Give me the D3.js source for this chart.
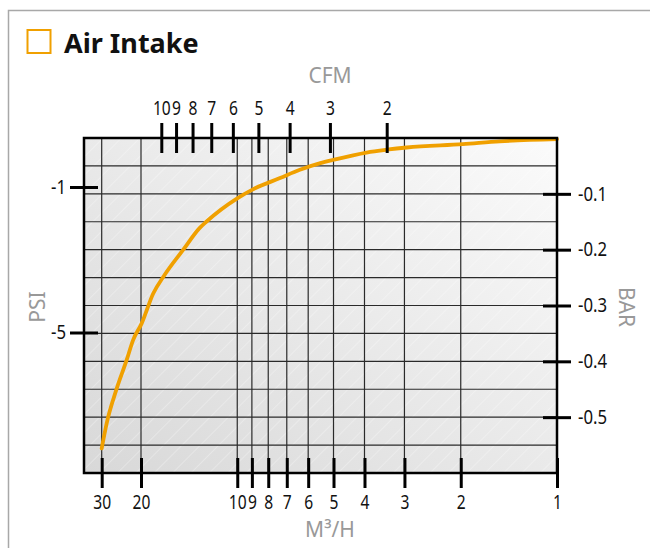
<!DOCTYPE html>
<html>
<head>
<meta charset="utf-8">
<script src="https://cdn.jsdelivr.net/npm/d3@7"></script>
<style>
    body { margin: 0; background: #fff; }
    text { font-family: 'Noto Sans', 'Open Sans', sans-serif; }
</style>
</head>
<body>
<svg id="chart-svg" width="650" height="548"></svg>
<script>
// Pump curve: flow in m3/h against vacuum in bar.
const flowM3h = [30, 28.5, 25.7, 23.2, 21.7, 19.9, 18.3, 17.0, 14.75, 13.1, 12.5, 10.0, 8.9, 7.35, 6.37, 5.5, 5.0, 3.94, 3.41, 2.95, 1.97, 1.51, 1];
const vacuumBar = [-0.556, -0.511, -0.449, -0.398, -0.362, -0.332, -0.278, -0.248, -0.200, -0.161, -0.150, -0.108, -0.0915, -0.0718, -0.057, -0.045, -0.039, -0.026, -0.021, -0.017, -0.011, -0.006, -0.002];

// Tick labels and grid values.
const m3hTicks = [30, 20, 10, 9, 8, 7, 6, 5, 4, 3, 2, 1];
const m3hGrid = [30, 20, 10, 9, 8, 7, 6, 5, 4, 3, 2];
const cfmTicks = [10, 9, 8, 7, 6, 5, 4, 3, 2];
const psiTicks = [-1, -5];
const barTicks = [-0.1, -0.2, -0.3, -0.4, -0.5];
const barGrid = [-0.05, -0.1, -0.15, -0.2, -0.25, -0.3, -0.35, -0.4, -0.45, -0.5, -0.55];

let margin = {top: 138, right: 93, bottom: 75, left: 84};
let width = 650 - margin.left - margin.right;
let height = 548 - margin.top - margin.bottom;

let svg = d3.select('#chart-svg');
let defs = svg.append('defs');

// Gray background gradient plus faint diagonal hatching.
let grad = defs.append('linearGradient')
    .attr('id', 'bg-grad')
    .attr('x1', 0).attr('y1', 1)
    .attr('x2', 1).attr('y2', 0);
grad.append('stop').attr('offset', '0%').attr('stop-color', '#d8d8d8');
grad.append('stop').attr('offset', '100%').attr('stop-color', '#fbfbfb');

let hatch = defs.append('pattern')
    .attr('id', 'hatch')
    .attr('width', 13).attr('height', 13)
    .attr('patternUnits', 'userSpaceOnUse')
    .attr('patternTransform', 'rotate(45)');
hatch.append('line')
    .attr('x1', 0).attr('y1', 0)
    .attr('x2', 0).attr('y2', 13)
    .attr('stroke', '#fff')
    .attr('stroke-width', 1)
    .attr('stroke-opacity', 0.55);

// Outer panel border and title.
svg.append('rect')
    .attr('x', 8.5).attr('y', 10.5)
    .attr('width', 700).attr('height', 600)
    .attr('fill', 'none')
    .attr('stroke', '#a8a8a8')
    .attr('stroke-width', 1.5);

svg.append('rect')
    .attr('x', 27.5).attr('y', 30)
    .attr('width', 23).attr('height', 23)
    .attr('fill', 'none')
    .attr('stroke', '#f0a000')
    .attr('stroke-width', 2);

svg.append('text')
    .attr('x', 64)
    .attr('y', 53)
    .attr('font-size', 27)
    .style('font-weight', 'bold')
    .attr('fill', '#111')
    .text('Air Intake');

// Scales. The 30 m3/h tick sits off the log spacing, so the scale is piecewise.
let x = d3.scaleLog()
    .domain([30, 20, 1])
    .range([17.7, 57, width]);
let yBar = d3.scaleLinear()
    .domain([0, -0.6])
    .range([0, height]);
let yPsi = d3.scaleLinear()
    .domain([-1, -5])
    .range([49, 194.5]);
let xCfm = d3.scaleLog()
    .domain([2, 10])
    .range([302.7, 77.3]);

// Plain hyphen for negatives, like the original.
let hyphen = f => (d => f(d).replace('\u2212', '-'));

let g = svg.append('g')
    .attr('transform', 'translate(' + margin.left + ',' + margin.top + ')');

g.append('rect')
    .attr('width', width).attr('height', height)
    .attr('fill', 'url(#bg-grad)');
g.append('rect')
    .attr('width', width).attr('height', height)
    .attr('fill', 'url(#hatch)');

// Grid lines.
g.append('g')
    .selectAll('line')
    .data(barGrid)
    .join('line')
    .attr('x1', 0).attr('x2', width)
    .attr('y1', d => yBar(d)).attr('y2', d => yBar(d))
    .attr('stroke', '#2a2a2a')
    .attr('stroke-width', 1.2);

g.append('g')
    .selectAll('line')
    .data(m3hGrid)
    .join('line')
    .attr('x1', d => x(d)).attr('x2', d => x(d))
    .attr('y1', 0).attr('y2', height)
    .attr('stroke', '#2a2a2a')
    .attr('stroke-width', 1.2);

// The curve itself.
let points = flowM3h.map((f, i) => ({flow: f, bar: vacuumBar[i]}));
let line = d3.line()
    .x(d => x(d.flow))
    .y(d => yBar(d.bar))
    .curve(d3.curveMonotoneX);
g.append('path')
    .datum(points)
    .attr('d', line)
    .attr('fill', 'none')
    .attr('stroke', '#f0a000')
    .attr('stroke-width', 3.8)
    .attr('stroke-linecap', 'round');

// Plot frame.
g.append('rect')
    .attr('width', width).attr('height', height)
    .attr('fill', 'none')
    .attr('stroke', '#000')
    .attr('stroke-width', 2.5);

// Axes: ticks straddle the frame, so each axis is shifted by half the tick.
// Tick text is narrowed horizontally, the original uses a condensed face.
function styleAxis(squeeze) {
    return function(sel) {
        sel.select('.domain').remove();
        sel.selectAll('.tick line').attr('stroke', '#000').attr('stroke-width', 3);
        sel.selectAll('.tick text')
            .attr('fill', '#111')
            .attr('font-size', 19.5)
            .attr('x', function() { return (+d3.select(this).attr('x') || 0) / squeeze; })
            .attr('transform', 'scale(' + squeeze + ',1)');
    };
}

g.append('g')
    .attr('transform', 'translate(0,' + (height - 15) + ')')
    .call(d3.axisBottom(x).tickValues(m3hTicks).tickSize(30).tickPadding(7).tickFormat(d3.format('d')))
    .call(styleAxis(0.8));

g.append('g')
    .attr('transform', 'translate(0,15)')
    .call(d3.axisTop(xCfm).tickValues(cfmTicks).tickSize(30).tickPadding(8).tickFormat(d3.format('d')))
    .call(styleAxis(0.8));

g.append('g')
    .attr('transform', 'translate(14,0)')
    .call(d3.axisLeft(yPsi).tickValues(psiTicks).tickSize(28).tickPadding(4).tickFormat(hyphen(d3.format('d'))))
    .call(styleAxis(0.86));

g.append('g')
    .attr('transform', 'translate(' + (width - 14) + ',0)')
    .call(d3.axisRight(yBar).tickValues(barTicks).tickSize(28).tickPadding(7).tickFormat(hyphen(d3.format('.1f'))))
    .call(styleAxis(0.86));

// Axis titles.
let titles = svg.append('g')
    .attr('fill', '#999')
    .attr('font-size', 21)
    .attr('text-anchor', 'middle');

titles.append('text').attr('x', 330).attr('y', 83).text('CFM');
titles.append('text').attr('x', 330).attr('y', 537).text('M³/H');
titles.append('text')
    .attr('transform', 'translate(38,307) rotate(-90)')
    .attr('dy', '0.35em')
    .text('PSI');
titles.append('text')
    .attr('transform', 'translate(626,307) rotate(90)')
    .attr('dy', '0.35em')
    .text('BAR');
</script>
</body>
</html>
